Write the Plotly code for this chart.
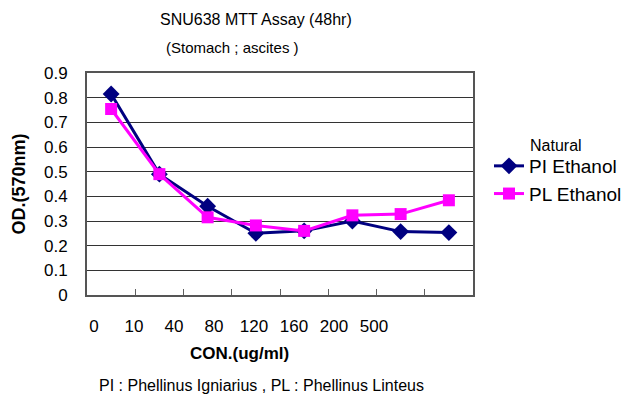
import plotly.graph_objects as go

categories = ["0", "10", "40", "80", "120", "160", "200", "500"]
pi_ethanol = [0.815, 0.49, 0.36, 0.25, 0.26, 0.30, 0.257, 0.253]
pl_ethanol = [0.754, 0.49, 0.315, 0.282, 0.26, 0.323, 0.328, 0.384]
pi_err = [0, 0, 0, 0.015, 0, 0, 0, 0]
pl_err = [0, 0, 0.02, 0, 0, 0, 0, 0]
y_ticks = [0, 0.1, 0.2, 0.3, 0.4, 0.5, 0.6, 0.7, 0.8, 0.9]
y_ticktext = ["0", "0.1", "0.2", "0.3", "0.4", "0.5", "0.6", "0.7", "0.8", "0.9"]

FONT = "Liberation Sans"
OFF = 8  # page body margin
W, H = 630 - OFF, 401 - OFF
# plot area in window pixels: x 87..473, y 73..295
L, R, T, B = 87 - OFF, W - (473 - OFF), 73 - OFF, H - (295 - OFF)
pw, ph = W - L - R, H - T - B


def px(x):
    return (x - OFF - L) / pw


def py(y):
    return 1 - (y - OFF - T) / ph


fig = go.Figure()
fig.add_trace(go.Scatter(
    x=categories, y=pi_ethanol, name="PI Ethanol", mode="lines+markers",
    line=dict(color="#000080", width=3),
    marker=dict(symbol="diamond", size=13, color="#000080"),
    error_y=dict(type="data", array=pi_err, color="#000000", thickness=1.5, width=4),
))
fig.add_trace(go.Scatter(
    x=categories, y=pl_ethanol, name="PL Ethanol", mode="lines+markers",
    line=dict(color="#FF00FF", width=3),
    marker=dict(symbol="square", size=12, color="#FF00FF"),
    error_y=dict(type="data", array=pl_err, color="#000000", thickness=1.5, width=4),
))
# invisible trace carrying the tick labels on the label axis
fig.add_trace(go.Scatter(
    x=categories, y=pl_ethanol, xaxis="x2", mode="markers",
    marker=dict(opacity=0), showlegend=False, hoverinfo="skip",
))

fig.update_layout(
    width=W, height=H,
    margin=dict(l=L, r=R, t=T, b=B, pad=0),
    paper_bgcolor="white", plot_bgcolor="rgba(0,0,0,0)",
    font=dict(family=FONT, color="#000000"),
    showlegend=True,
    legend=dict(
        xref="container", yref="container",
        x=(489 - OFF) / W, y=1 - (147 - OFF) / H, xanchor="left", yanchor="top",
        font=dict(size=19, family=FONT),
        tracegroupgap=0, itemwidth=30, bgcolor="rgba(0,0,0,0)", borderwidth=0,
    ),
    xaxis=dict(
        type="category", categoryorder="array", categoryarray=categories,
        range=[-0.5, 7.5], showticklabels=False,
        tickson="boundaries", ticks="inside", ticklen=6, tickcolor="#606060",
        showline=True, mirror=True, linecolor="#555555", linewidth=2,
        showgrid=False, zeroline=False, automargin=False,
    ),
    xaxis2=dict(
        type="category", categoryorder="array", categoryarray=categories,
        overlaying="x", anchor="y", side="bottom",
        range=[-0.175, 9.475], showgrid=False, zeroline=False, showline=False,
        ticks="", tickfont=dict(size=17, family=FONT), ticklabelstandoff=19,
        automargin=False,
    ),
    yaxis=dict(
        range=[0, 0.9], tickvals=y_ticks, ticktext=y_ticktext,
        showgrid=True, gridcolor="#333333", gridwidth=1,
        showline=True, mirror=True, linecolor="#555555", linewidth=2,
        zeroline=False, ticks="", tickfont=dict(size=17, family=FONT),
        ticklabelstandoff=14, automargin=False,
        title=dict(text="<b>OD.(570nm)</b>", font=dict(size=18, family=FONT), standoff=14),
    ),
    annotations=[
        dict(text="SNU638 MTT Assay (48hr)", x=px(256), y=py(19),
             font=dict(size=16, family=FONT)),
        dict(text="(Stomach ; ascites )", x=px(232), y=py(47),
             font=dict(size=15, family=FONT)),
        dict(text="Natural", x=px(556), y=py(145),
             font=dict(size=16, family=FONT)),
        dict(text="<b>CON.(ug/ml)</b>", x=px(239), y=py(353),
             font=dict(size=17, family=FONT)),
        dict(text="PI : Phellinus Igniarius , PL : Phellinus Linteus", x=px(261), y=py(385),
             font=dict(size=16, family=FONT)),
    ],
)
fig.update_annotations(xref="paper", yref="paper", showarrow=False,
                       xanchor="center", yanchor="middle")

fig.write_html("out.html")
